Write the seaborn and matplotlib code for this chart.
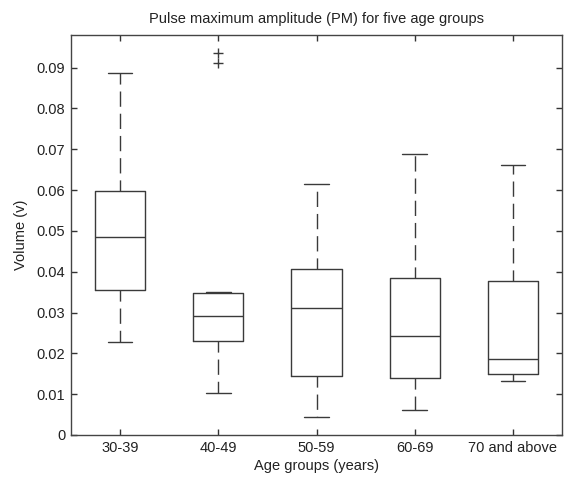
import matplotlib
matplotlib.use("Agg")
import matplotlib.pyplot as plt
import seaborn as sns

# Age groups and box statistics of pulse maximum amplitude (volume, v)
groups = ["30-39", "40-49", "50-59", "60-69", "70 and above"]
whisker_low = [0.0229, 0.0102, 0.0045, 0.0062, 0.0133]
q1 = [0.0355, 0.0230, 0.0145, 0.0140, 0.0149]
median = [0.0486, 0.0292, 0.0312, 0.0243, 0.0186]
q3 = [0.0599, 0.0349, 0.0406, 0.0385, 0.0378]
whisker_high = [0.0888, 0.0351, 0.0615, 0.0688, 0.0662]
outliers = [[], [0.0937, 0.0912], [], [], []]

y_ticks = [0, 0.01, 0.02, 0.03, 0.04, 0.05, 0.06, 0.07, 0.08, 0.09]
y_tick_labels = ["0", "0.01", "0.02", "0.03", "0.04", "0.05", "0.06", "0.07", "0.08", "0.09"]

sns.set_theme(style="white")
plt.rcParams["font.family"] = ["Liberation Sans", "DejaVu Sans"]
plt.rcParams["lines.scale_dashes"] = False

fig = plt.figure(figsize=(5.71, 4.79), dpi=100)
ax = fig.add_axes([71 / 571, 1 - 435 / 479, (562 - 71) / 571, (435 - 35) / 479])

stats = []
for i, g in enumerate(groups):
    stats.append({
        "label": g,
        "whislo": whisker_low[i],
        "q1": q1[i],
        "med": median[i],
        "q3": q3[i],
        "whishi": whisker_high[i],
        "fliers": outliers[i],
    })

line_col = "#3a3a3a"
ax.bxp(
    stats,
    positions=range(1, len(groups) + 1),
    widths=0.51,
    showfliers=True,
    boxprops=dict(color=line_col, linewidth=1.0),
    medianprops=dict(color=line_col, linewidth=1.0),
    whiskerprops=dict(color=line_col, linewidth=1.0, linestyle=(3, (11, 5))),
    capprops=dict(color=line_col, linewidth=1.0),
    flierprops=dict(marker="+", markersize=7, markeredgecolor=line_col,
                    markeredgewidth=1.0, linestyle="none"),
    capwidths=0.25,
)

ax.set_xlim(0.5, 5.5)
ax.set_ylim(0, 0.098)
ax.set_xticks(range(1, len(groups) + 1))
ax.set_xticklabels(groups)
ax.set_yticks(y_ticks)
ax.set_yticklabels(y_tick_labels)

fs = 10.5
ax.tick_params(axis="both", direction="in", length=4, width=1.0, color="#333333",
               labelsize=fs, labelcolor="#222222", top=True, right=True,
               left=True, bottom=True, pad=4)
for s in ax.spines.values():
    s.set_color("#444444")
    s.set_linewidth(1.0)

ax.set_title("Pulse maximum amplitude (PM) for five age groups", fontsize=fs,
             color="#222222", pad=9)
ax.set_xlabel("Age groups (years)", fontsize=fs, color="#222222", labelpad=3)
ax.set_ylabel("Volume (v)", fontsize=fs, color="#222222", labelpad=6)

fig.savefig("out.png", dpi=100, facecolor="white")
